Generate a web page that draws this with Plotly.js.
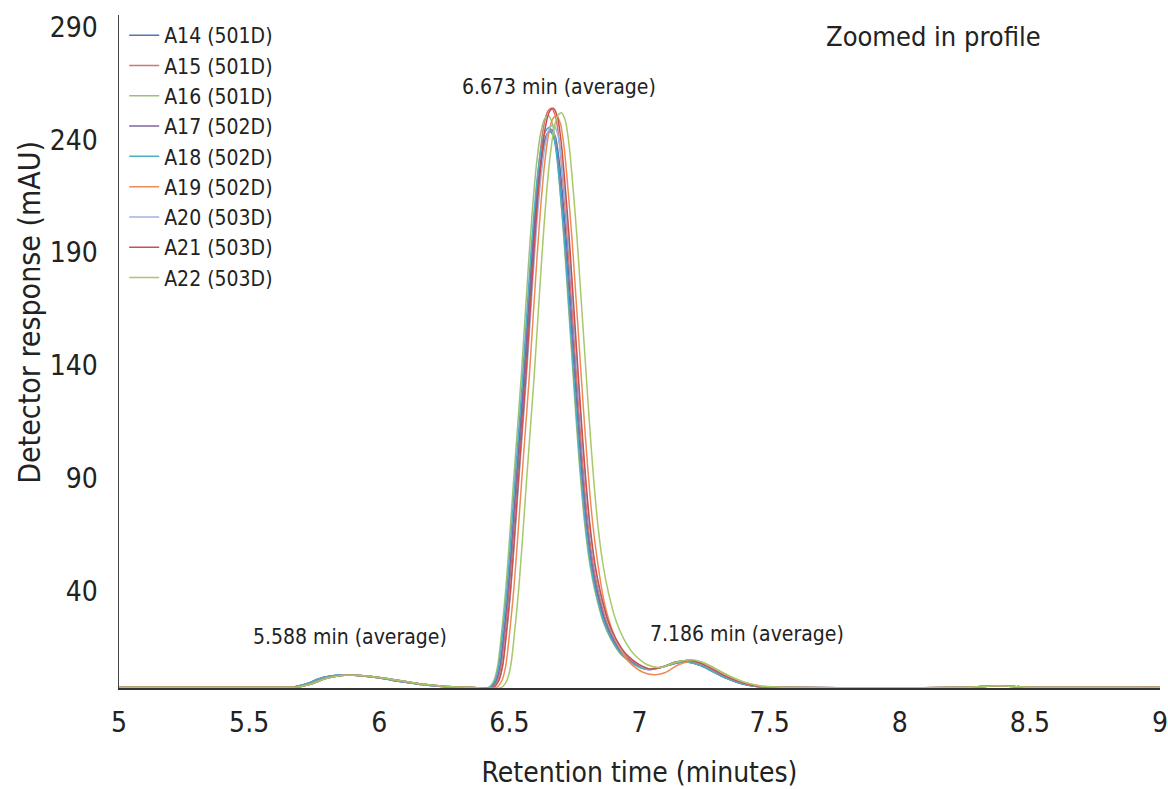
<!DOCTYPE html>
<html><head><meta charset="utf-8">
<script src="https://cdn.plot.ly/plotly-3.0.1.min.js"></script>
<style>html,body{margin:0;padding:0;background:#fff}#chart{width:1168px;height:789px}</style>
</head><body><div id="chart"></div>
<script>
const seriesNames = ["A14 (501D)","A15 (501D)","A16 (501D)","A17 (502D)","A18 (502D)","A19 (502D)","A20 (503D)","A21 (503D)","A22 (503D)"];
const seriesColors = ["#4F76B8","#D27573","#9FC07A","#7E66A3","#4BAEC4","#F08A55","#9DB6DD","#C8504E","#A6C96A"];

const a14Time = [5.0,5.6,5.67,5.72,5.78,5.845,5.92,6.0,6.08,6.16,6.24,6.33,
 6.432,6.452,6.467,6.482,6.497,6.512,6.527,6.542,6.557,6.572,6.587,6.602,6.617,6.632,6.647,6.662,6.677,6.692,6.707,6.722,6.737,6.752,6.767,6.782,6.802,6.822,6.842,6.872,6.902,6.942,6.992,7.037,
 7.085,7.135,7.18,7.23,7.28,7.33,7.39,7.45,7.54,8.25,8.38,8.5,9.0];
const a14Resp = [-2.6,-2.6,-2.4,-1.0,1.6,2.9,2.6,1.5,0.0,-1.4,-2.2,-2.6,
 -2.6,0.3,6.7,21.2,38.5,60.7,84.7,107.9,131,157,183,206.1,224.4,236.9,243.2,244.6,241.2,230.2,211.9,190.7,165.6,140.6,115.6,92.4,67.4,50.1,38.5,26,18.3,11.6,7.2,5.3,
 6.3,8.0,8.6,7.3,4.5,1.6,-0.9,-2.2,-2.6,-2.6,-1.9,-2.6,-2.6];

const a15Time = [5.0,5.6,5.69,5.74,5.80,5.865,5.94,6.02,6.10,6.18,6.26,6.35,
 6.432,6.452,6.467,6.482,6.497,6.512,6.527,6.542,6.557,6.572,6.587,6.602,6.617,6.632,6.647,6.662,6.677,6.692,6.707,6.722,6.737,6.752,6.767,6.782,6.802,6.822,6.842,6.872,6.902,6.942,6.992,7.037,
 7.09,7.14,7.19,7.24,7.29,7.34,7.40,7.46,7.55,8.25,8.38,8.5,9.0];
const a15Resp = [-2.6,-2.6,-2.4,-1.0,1.5,2.8,2.5,1.4,0.0,-1.4,-2.2,-2.6,
 -2.6,0.3,7,22,40,63,88,112,136,163,190,214,233,246,252.5,254,250.5,239,220,198,172,146,120,96,70,52,40,27,19,12,7.5,5.5,
 6.5,8.6,9.3,7.8,4.8,1.8,-0.8,-2.2,-2.6,-2.6,-1.9,-2.6,-2.6];

const a16Time = [5.0,5.6,5.69,5.74,5.80,5.865,5.94,6.02,6.10,6.18,6.26,6.35,
 6.420,6.440,6.455,6.470,6.485,6.500,6.515,6.530,6.545,6.560,6.575,6.590,6.605,6.620,6.635,6.650,6.665,6.680,6.695,6.710,6.725,6.740,6.755,6.770,6.790,6.810,6.830,6.860,6.890,6.930,6.980,7.025,
 7.09,7.14,7.19,7.24,7.29,7.34,7.40,7.46,7.55,8.25,8.38,8.5,9.0];
const a16Resp = [-2.6,-2.6,-2.4,-1.0,1.5,2.8,2.5,1.4,0.0,-1.4,-2.2,-2.6,
 -2.6,0.3,6.9,21.7,39.5,62.2,86.9,110.5,134.2,160.9,187.5,211.2,230,242.8,249.2,250.7,247.2,235.9,217.1,195.4,169.8,144.1,118.4,94.8,69.1,51.3,39.5,26.6,18.8,11.8,7.4,5.4,
 6.5,8.6,9.3,7.8,4.8,1.8,-0.8,-2.2,-2.6,-2.6,-1.9,-2.6,-2.6];

const a17Time = [5.0,5.6,5.67,5.72,5.78,5.845,5.92,6.0,6.08,6.16,6.24,6.33,
 6.428,6.448,6.463,6.478,6.493,6.508,6.523,6.538,6.553,6.568,6.583,6.598,6.613,6.628,6.643,6.658,6.673,6.688,6.703,6.718,6.733,6.748,6.763,6.778,6.798,6.818,6.838,6.868,6.898,6.938,6.988,7.033,
 7.085,7.135,7.18,7.23,7.28,7.33,7.39,7.45,7.54,8.25,8.38,8.5,9.0];
const a17Resp = [-2.6,-2.6,-2.4,-1.0,1.6,2.9,2.6,1.5,0.0,-1.4,-2.2,-2.6,
 -2.6,0.3,6.7,21.1,38.4,60.4,84.4,107.4,130.4,156.3,182.2,205.2,223.4,235.9,242.1,243.6,240.2,229.2,211,189.9,164.9,140,115.1,92.1,67.1,49.9,38.4,25.9,18.2,11.5,7.2,5.3,
 6.3,8.0,8.6,7.3,4.5,1.6,-0.9,-2.2,-2.6,-2.6,-1.9,-2.6,-2.6];

const a18Time = [5.0,5.6,5.67,5.72,5.78,5.845,5.92,6.0,6.08,6.16,6.24,6.33,
 6.424,6.444,6.459,6.474,6.489,6.504,6.519,6.534,6.549,6.564,6.579,6.594,6.609,6.624,6.639,6.654,6.669,6.684,6.699,6.714,6.729,6.744,6.759,6.774,6.794,6.814,6.834,6.864,6.894,6.934,6.984,7.029,
 7.085,7.135,7.18,7.23,7.28,7.33,7.39,7.45,7.54,8.25,8.38,8.5,9.0];
const a18Resp = [-2.6,-2.6,-2.4,-1.0,1.6,2.9,2.6,1.5,0.0,-1.4,-2.2,-2.6,
 -2.6,0.3,6.8,21.3,38.6,60.9,85,108.2,131.4,157.5,183.5,206.7,225.1,237.6,243.9,245.4,242,230.9,212.5,191.3,166.2,141,115.9,92.7,67.6,50.2,38.6,26.1,18.4,11.6,7.2,5.3,
 6.3,8.0,8.6,7.3,4.5,1.6,-0.9,-2.2,-2.6,-2.6,-1.9,-2.6,-2.6];

const a19Time = [5.0,5.6,5.69,5.74,5.80,5.865,5.94,6.02,6.10,6.18,6.26,6.35,
 6.451,6.471,6.486,6.501,6.516,6.531,6.546,6.561,6.576,6.591,6.606,6.621,6.636,6.651,6.666,6.681,6.696,6.711,6.726,6.741,6.756,6.771,6.786,6.801,6.821,6.841,6.861,6.891,6.921,6.961,7.011,7.056,
 7.10,7.15,7.20,7.25,7.30,7.35,7.41,7.47,7.56,8.25,8.38,8.5,9.0];
const a19Resp = [-2.6,-2.6,-2.4,-1.0,1.5,2.8,2.5,1.4,0.0,-1.4,-2.2,-2.6,
 -2.6,0.3,6.9,21.7,39.5,62.2,86.9,110.5,134.2,160.9,187.5,211.2,230,242.8,249.2,250.7,247.2,235.9,217.1,195.4,169.8,144.1,118.4,94.8,69.1,51.3,37,24,15.5,8.5,4.2,3.0,
 4.0,7.4,9.0,7.9,5.0,2.0,-0.7,-2.1,-2.6,-2.6,-1.9,-2.6,-2.6];

const a20Time = [5.0,5.6,5.69,5.74,5.80,5.865,5.94,6.02,6.10,6.18,6.26,6.35,
 6.439,6.459,6.474,6.489,6.504,6.519,6.534,6.549,6.564,6.579,6.594,6.609,6.624,6.639,6.654,6.669,6.684,6.699,6.714,6.729,6.744,6.759,6.774,6.789,6.809,6.829,6.849,6.879,6.909,6.949,6.999,7.044,
 7.09,7.14,7.19,7.24,7.29,7.34,7.40,7.46,7.55,8.25,8.38,8.5,9.0];
const a20Resp = [-2.6,-2.6,-2.4,-1.0,1.5,2.8,2.5,1.4,0.0,-1.4,-2.2,-2.6,
 -2.6,0.3,6.8,21.4,38.8,61.2,85.4,108.8,132.1,158.3,184.5,207.8,226.2,238.9,245.2,246.6,243.2,232.1,213.6,192.3,167,141.8,116.5,93.2,68,50.5,38.8,26.2,18.4,11.7,7.3,5.3,
 6.5,8.6,9.3,7.8,4.8,1.8,-0.8,-2.2,-2.6,-2.6,-1.9,-2.6,-2.6];

const a21Time = [5.0,5.6,5.69,5.74,5.80,5.865,5.94,6.02,6.10,6.18,6.26,6.35,
 6.439,6.459,6.474,6.489,6.504,6.519,6.534,6.549,6.564,6.579,6.594,6.609,6.624,6.639,6.654,6.669,6.684,6.699,6.714,6.729,6.744,6.759,6.774,6.789,6.809,6.829,6.849,6.879,6.909,6.949,6.999,7.044,
 7.09,7.14,7.19,7.24,7.29,7.34,7.40,7.46,7.55,8.25,8.38,8.5,9.0];
const a21Resp = [-2.6,-2.6,-2.4,-1.0,1.5,2.8,2.5,1.4,0.0,-1.4,-2.2,-2.6,
 -2.6,0.3,7,22,40,63,88,112,136,163,190,214,233,246,252.5,254,250.5,239,220,198,172,146,120,96,70,52,40,27,19,12,7.5,5.5,
 6.5,8.6,9.3,7.8,4.8,1.8,-0.8,-2.2,-2.6,-2.6,-1.9,-2.6,-2.6];

const a22Time = [5.0,5.6,5.69,5.74,5.80,5.865,5.94,6.02,6.10,6.18,6.26,6.35,
 6.470,6.490,6.505,6.520,6.535,6.550,6.565,6.580,6.595,6.610,6.625,6.640,6.655,6.670,6.685,6.700,6.715,6.730,6.745,6.760,6.775,6.790,6.805,6.820,6.840,6.860,6.880,6.910,6.940,6.980,7.030,
 7.08,7.14,7.20,7.25,7.30,7.35,7.41,7.47,7.56,8.25,8.38,8.5,9.0];
const a22Resp = [-2.6,-2.6,-2.4,-1.0,1.5,2.8,2.5,1.4,0.0,-1.4,-2.2,-2.6,
 -2.6,0.3,6.9,21.8,39.7,62.5,87.3,111.1,134.9,161.7,188.5,212.3,231.1,244,250.5,252,248.5,237.1,218.2,196.4,170.6,144.8,119,95.2,69.4,51.6,39.7,26.8,18.8,11.9,7.4,
 6.2,8.5,9.6,8.2,5.2,2.2,-0.6,-2.1,-2.6,-2.6,-1.9,-2.6,-2.6];

const peakLabels = ["5.588 min (average)","6.673 min (average)","7.186 min (average)"];
const yTickVals = [40,90,140,190,240,290];
const xTickVals = [5,5.5,6,6.5,7,7.5,8,8.5,9];
const xTickText = ["5","5.5","6","6.5","7","7.5","8","8.5","9"];

const timeArrays = [a14Time,a15Time,a16Time,a17Time,a18Time,a19Time,a20Time,a21Time,a22Time];
const respArrays = [a14Resp,a15Resp,a16Resp,a17Resp,a18Resp,a19Resp,a20Resp,a21Resp,a22Resp];

const FONT = "'Liberation Sans Narrow', 'Arial Narrow', 'DejaVu Sans Condensed', sans-serif";
const TXT = "#222222";

const traces = seriesNames.map((n,i)=>({
  type:'scatter', mode:'lines', name:n, legendgroup:n,
  x: timeArrays[i], y: respArrays[i],
  line:{color:seriesColors[i], width:1.5, shape:'spline', smoothing:0.8},
  hoverinfo:'x+y+name'
}));

const layout = {
  width:1168, height:789,
  margin:{l:119, r:8, t:15, b:101, pad:0},
  paper_bgcolor:'#ffffff', plot_bgcolor:'#ffffff',
  font:{family:FONT, color:TXT, size:21},
  showlegend:true,
  legend:{x:0.005, y:1.0, xanchor:'left', yanchor:'top', bgcolor:'rgba(0,0,0,0)',
    font:{family:FONT, size:21, color:TXT}, tracegroupgap:0, itemwidth:30},
  xaxis:{range:[5,9], tickvals:xTickVals, ticktext:xTickText, showgrid:false, zeroline:false,
    showline:true, linecolor:'#333333', linewidth:2, ticks:'', ticklabelstandoff:8,
    ticklabeloverflow:'allow',
    tickfont:{family:FONT, size:28, color:TXT},
    title:{text:'Retention time (minutes)', font:{family:FONT, size:28, color:TXT}, standoff:26},
    automargin:false},
  yaxis:{range:[-2.9,295.3], tickvals:yTickVals, showgrid:false, zeroline:false,
    showline:true, linecolor:'#444444', linewidth:1.5, ticks:'', ticklabelstandoff:14,
    tickfont:{family:FONT, size:28, color:TXT}, automargin:false},
  annotations:[
    {xref:'paper', yref:'paper', x:-0.0855, y:0.559, text:'Detector response (mAU)', textangle:-90,
     showarrow:false, font:{family:FONT, size:30, color:TXT}, xanchor:'center', yanchor:'middle'},
    {x:5.888, y:19.5, text:peakLabels[0], showarrow:false, font:{family:FONT, size:21, color:TXT}},
    {x:6.692, y:263.5, text:peakLabels[1], showarrow:false, font:{family:FONT, size:21, color:TXT}},
    {x:7.412, y:21, text:peakLabels[2], showarrow:false, font:{family:FONT, size:21, color:TXT}},
    {x:8.131, y:285.6, text:'Zoomed in profile', showarrow:false, font:{family:FONT, size:27, color:TXT}}
  ]
};

Plotly.newPlot('chart', traces, layout, {displayModeBar:false, staticPlot:true});
</script>
</body></html>
